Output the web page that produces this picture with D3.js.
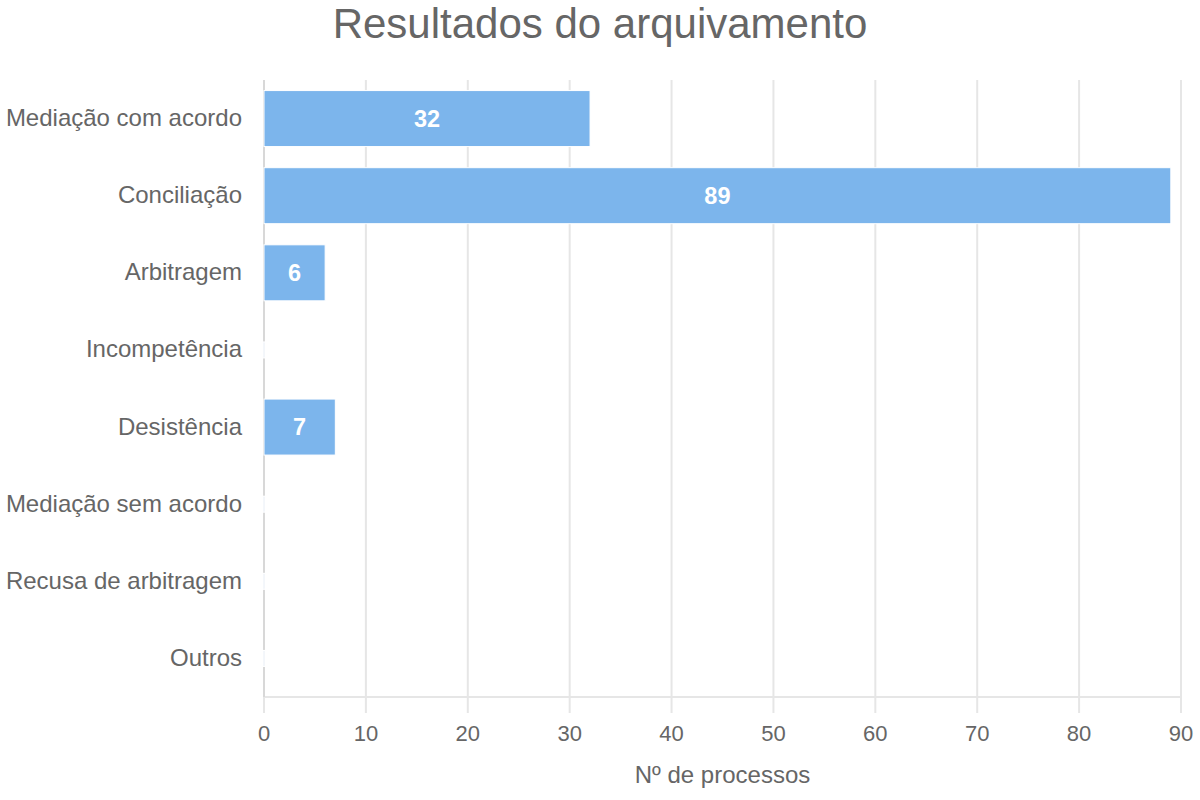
<!DOCTYPE html>
<html>
<head>
<meta charset="utf-8">
<script src="https://cdn.jsdelivr.net/npm/d3@7"></script>
<style>
  body { margin: 0; background: #fff; }
  text { font-family: "Liberation Sans", Arial, sans-serif; }
</style>
</head>
<body>
<svg id="graph" width="1200" height="800"></svg>
<script>
// Chart data
var categories = ["Mediação com acordo", "Conciliação", "Arbitragem", "Incompetência",
                  "Desistência", "Mediação sem acordo", "Recusa de arbitragem", "Outros"];
var values = [32, 89, 6, 0, 7, 0, 0, 0];
var xTicks = [0, 10, 20, 30, 40, 50, 60, 70, 80, 90];
var title = "Resultados do arquivamento";
var xTitle = "Nº de processos";

var svg = d3.select("#graph"),
    width = +svg.attr("width"),
    height = +svg.attr("height"),
    margin = {top: 80, right: 19, bottom: 103, left: 264};

var barColor = "#7cb5ec", gridColor = "#e6e6e6", textColor = "#666666";

// Scales
var xScale = d3.scaleLinear().domain([0, 90]).range([margin.left, width - margin.right]);
var yScale = d3.scaleBand().domain(categories)
    .range([margin.top, height - margin.bottom])
    .paddingInner(0.274).paddingOuter(0.137);

// Title
svg.append("text")
    .attr("x", width / 2).attr("y", 38)
    .attr("text-anchor", "middle")
    .attr("fill", textColor)
    .style("font-size", "42px")
    .text(title);

// Vertical grid lines (extend below the axis as ticks)
svg.append("g").selectAll("line").data(xTicks).join("line")
    .attr("x1", d => xScale(d)).attr("x2", d => xScale(d))
    .attr("y1", margin.top).attr("y2", height - margin.bottom + 16)
    .attr("stroke", gridColor).attr("stroke-width", 2);

// Bottom axis line
svg.append("line")
    .attr("x1", margin.left).attr("x2", width - margin.right)
    .attr("y1", height - margin.bottom).attr("y2", height - margin.bottom)
    .attr("stroke", gridColor).attr("stroke-width", 2);

// Left axis line
svg.append("line")
    .attr("x1", margin.left).attr("x2", margin.left)
    .attr("y1", margin.top).attr("y2", height - margin.bottom)
    .attr("stroke", "#d8d8d8").attr("stroke-width", 2);

// X tick labels
svg.append("g").selectAll("text").data(xTicks).join("text")
    .attr("x", d => xScale(d)).attr("y", height - margin.bottom + 44)
    .attr("text-anchor", "middle")
    .attr("fill", textColor)
    .style("font-size", "22px")
    .text(d => d);

// X axis title
svg.append("text")
    .attr("x", (xScale(0) + xScale(90)) / 2).attr("y", 783)
    .attr("text-anchor", "middle")
    .attr("fill", textColor)
    .style("font-size", "24px")
    .text(xTitle);

// Category labels
svg.append("g").selectAll("text").data(categories).join("text")
    .attr("x", margin.left - 22)
    .attr("y", d => yScale(d) + yScale.bandwidth() / 2 + 7.5)
    .attr("text-anchor", "end")
    .attr("fill", textColor)
    .style("font-size", "24px")
    .text(d => d);

// Bars
var rows = categories.map((c, i) => ({cat: c, val: values[i]}));
svg.append("g").selectAll("rect").data(rows.filter(d => d.val > 0)).join("rect")
    .attr("x", xScale(0))
    .attr("y", d => yScale(d.cat))
    .attr("width", d => xScale(d.val) - xScale(0))
    .attr("height", yScale.bandwidth())
    .attr("fill", barColor)
    .attr("stroke", "#fff").attr("stroke-width", 1);

// Zero-value bars leave a small white-edged mark on the axis
svg.append("g").selectAll("rect").data(rows.filter(d => d.val === 0)).join("rect")
    .attr("x", xScale(0) - 1)
    .attr("y", d => yScale(d.cat) + yScale.bandwidth() / 2 - 8)
    .attr("width", 2)
    .attr("height", 16)
    .attr("fill", "#e8eef6")
    .attr("stroke", "#fff").attr("stroke-width", 1);

// Data labels
svg.append("g").selectAll("text").data(rows.filter(d => d.val > 0)).join("text")
    .attr("x", d => (xScale(0) + xScale(d.val)) / 2)
    .attr("y", d => yScale(d.cat) + yScale.bandwidth() / 2 + 8)
    .attr("text-anchor", "middle")
    .attr("fill", "#fff")
    .style("font-size", "23.5px")
    .style("font-weight", "bold")
    .text(d => d.val);
</script>
</body>
</html>
